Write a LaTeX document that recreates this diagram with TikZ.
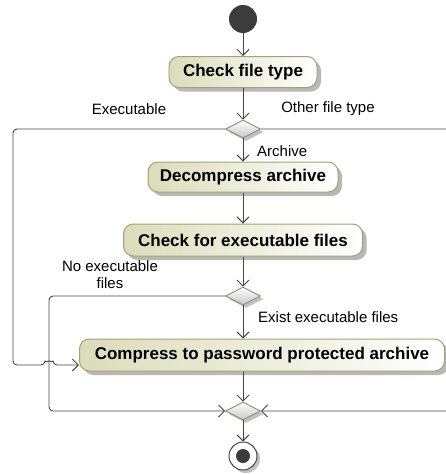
\documentclass[tikz,border=0pt]{standalone}
\usepackage{fontspec}
\setmainfont{Liberation Sans}
\usepackage{tikz}
\usetikzlibrary{calc}
\usetikzlibrary{arrows.meta}
\usetikzlibrary{shapes.geometric}
\usetikzlibrary{shadows}
\usetikzlibrary{positioning}
\definecolor{linegray}{HTML}{454545}
\definecolor{actborder}{HTML}{A3A370}
\definecolor{actfill}{HTML}{DCDCBA}
\definecolor{decborder}{HTML}{8E8E6C}
\definecolor{startgray}{HTML}{3C3C3C}
\tikzset{
    flow/.style    = {draw=linegray, line width=0.9pt, rounded corners=4pt},
    flowto/.style  = {flow, -{Straight Barb[length=6pt,width=12pt,line width=0.9pt]}},
    action/.style  = {draw=actborder, line width=1pt, rounded corners=10pt,
                      left color=actfill, right color=white, inner sep=0pt,
                      minimum height=31pt, font=\fontsize{17}{20}\selectfont\bfseries,
                      drop shadow={shadow xshift=4pt, shadow yshift=-4pt, fill=black!35, opacity=0.8}},
    decision/.style= {diamond, draw=decborder, line width=0.9pt, inner sep=0pt,
                      minimum width=35pt, minimum height=18pt, aspect=2,
                      top color=white, bottom color=black!22,
                      drop shadow={shadow xshift=3pt, shadow yshift=-3pt, fill=black!30, opacity=0.8}},
    guard/.style   = {font=\fontsize{15}{16}\selectfont, inner sep=0pt}
}
\begin{document}
\begin{tikzpicture}[x=1pt, y=-1pt]
            % Frame to ensure alignment:
            \useasboundingbox                                                  (0,0) rectangle (446,474);
            % Start node
            \node[circle, fill=startgray, minimum size=28pt, inner sep=0pt] (start)   at (243, 19) {};
            % Actions and decisions
            \node[action, minimum width=148pt] (check)                         at (243, 72) {Check file type};
            \node[decision] (typedec)                                          at (243,129) {};
            \node[action, minimum width=190pt, minimum height=30pt] (decomp)   at (243,177) {Decompress archive};
            \node[action, minimum width=239pt, minimum height=32pt] (search)   at (243,240) {Check for executable files};
            \node[decision] (exedec)                                           at (243,296) {};
            \node[action, minimum width=365pt, minimum height=32pt] (compress) at (262,355) {Compress to password protected archive};
            \node[decision] (merge)                                            at (243,411) {};
            % Final node
            \node[circle, draw=linegray, line width=1pt, fill=white, minimum size=28pt, inner sep=0pt,
                  drop shadow={shadow xshift=3pt, shadow yshift=-3pt, fill=black!30, opacity=0.8}] (final) at (243,456) {};
            \fill[startgray] (final) circle (7pt);
            % Guards
            \node[guard] (gexe)    at (129,109) {Executable};
            \node[guard] (gother)  at (328,109) {Other file type};
            \node[guard, anchor=west] (garch)   at (257,151) {Archive};
            \node[guard, align=center] (gnone)  at (110,275) {No executable\\[1pt]files};
            \node[guard, anchor=west] (gexist)  at (258,317) {Exist executable files};
            % Main flow
            \draw[flowto] (start)    -- (check);
            \draw[flowto] (check)    -- (typedec);
            \draw[flowto] (typedec)  -- (decomp);
            \draw[flowto] (decomp)   -- (search);
            \draw[flowto] (search)   -- (exedec);
            \draw[flowto] (exedec)   -- (exedec |- compress.north);
            \draw[flowto] (exedec |- compress.south) -- (merge);
            \draw[flowto] (merge)    -- (final);
            % Executable branch, hopping over the inner line
            \draw[flowto] (typedec.west) -- (13,129) -- (13,365) -- (45,365)
                          arc[start angle=180, end angle=0, radius=4pt] -- ([yshift=-10pt]compress.west);
            % No executable files branch
            \draw[flowto] (exedec.west) -- (49,296) -- (49,411) -- (merge.west);
            % Other file type branch
            \draw[flowto] (typedec.east) -- (452,129) -- (452,411) -- (merge.east);
\end{tikzpicture}
\end{document}
